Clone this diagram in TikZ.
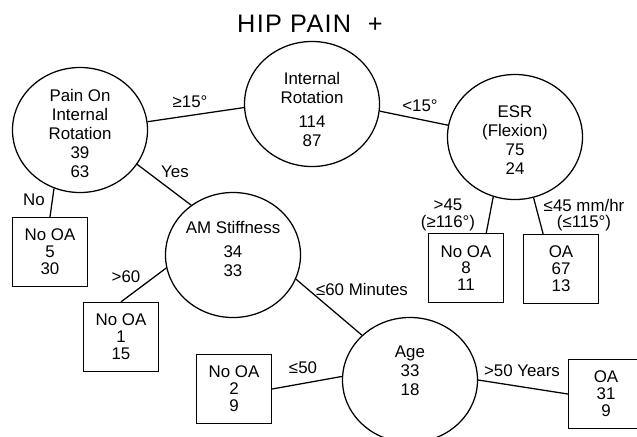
\documentclass[tikz,border=0pt]{standalone}
\usepackage{fontspec}
\setmainfont{Liberation Sans}
\newfontfamily\titlefont[LetterSpace=5]{Liberation Sans}
\usetikzlibrary{shapes.geometric}
\newcommand{\inside}[2][-4.6pt]{\smash{\raisebox{#1}{\begin{tabular}{@{}c@{}}#2\end{tabular}}}}

\begin{document}
\begin{tikzpicture}[x=0.025cm, y=-0.025cm, line width=0.9pt,
  font=\fontsize{12}{13.5}\selectfont,
  testnode/.style={ellipse, draw, minimum width=3.375cm, minimum height=3.125cm, inner sep=0pt},
  outcome/.style={rectangle, draw, minimum width=1.875cm, minimum height=1.725cm, align=center, inner sep=0pt, font=\fontsize{12}{12}\selectfont},
  cutlabel/.style={inner sep=0pt, align=center, font=\fontsize{12}{11.5}\selectfont}]
\path[use as bounding box, fill=white] (0,0) rectangle (637,436);

\node[inner sep=0pt, font=\fontsize{18}{18}\titlefont] (title) at (310,24) {HIP PAIN\hspace{6pt} +};

\node[testnode] (introt) at (312,104) {\inside[-8.5pt]{Internal\\Rotation\\[3pt]114\\87}};
\node[testnode] (pain) at (80,130) {\inside[-7.1pt]{Pain On\\Internal\\Rotation\\39\\63}};
\node[testnode] (esr) at (515,137) {\inside[-6.7pt]{ESR\\(Flexion)\\75\\24}};
\node[testnode] (am) at (233,255) {\inside[-0.3pt]{AM Stiffness\\[3pt]34\\33}};
\node[testnode] (age) at (410,380) {\inside[2.5pt]{Age\\33\\18}};

\node[outcome] (noa1) at (50,252) {No OA\\5\\30};
\node[outcome] (noa2) at (121,337) {No OA\\1\\15};
\node[outcome] (noa3) at (234,389) {No OA\\2\\9};
\node[outcome] (noa4) at (466,268) {No OA\\8\\11};
\node[outcome] (oa1) at (561,269) {OA\\67\\13};
\node[outcome] (oa2) at (606,394) {OA\\31\\9};

\draw (introt.183) -- (pain.7);
\draw (introt.-6) -- (esr.170);
\draw (pain.-114) -- (noa1.north);
\draw (pain.-31) -- (am.130);
\draw (am.191) -- (noa2.north);
\draw (am.-21) -- (age.137);
\draw (age.177) -- (noa3.east);
\draw (age.0) -- (oa2.west);
\draw (esr.-110) -- (noa4.60);
\draw (esr.-73) -- (oa1.117);

\node[cutlabel] (ge15) at (190,102) {≥15°};
\node[cutlabel] (lt15) at (420,106) {<15°};
\node[cutlabel] (lblno) at (34,200) {No};
\node[cutlabel] (lblyes) at (175,172) {Yes};
\node[cutlabel] (gt60) at (126,277) {>60};
\node[cutlabel] (le60) at (362,289) {≤60 Minutes};
\node[cutlabel] (le50) at (303,368) {≤50};
\node[cutlabel] (gt50) at (522,371) {>50 Years};
\node[cutlabel] (gt45) at (448,215) {>45\\(≥116°)};
\node[cutlabel] (le45) at (584,215) {≤45 mm/hr\\(≤115°)};
\end{tikzpicture}
\end{document}
